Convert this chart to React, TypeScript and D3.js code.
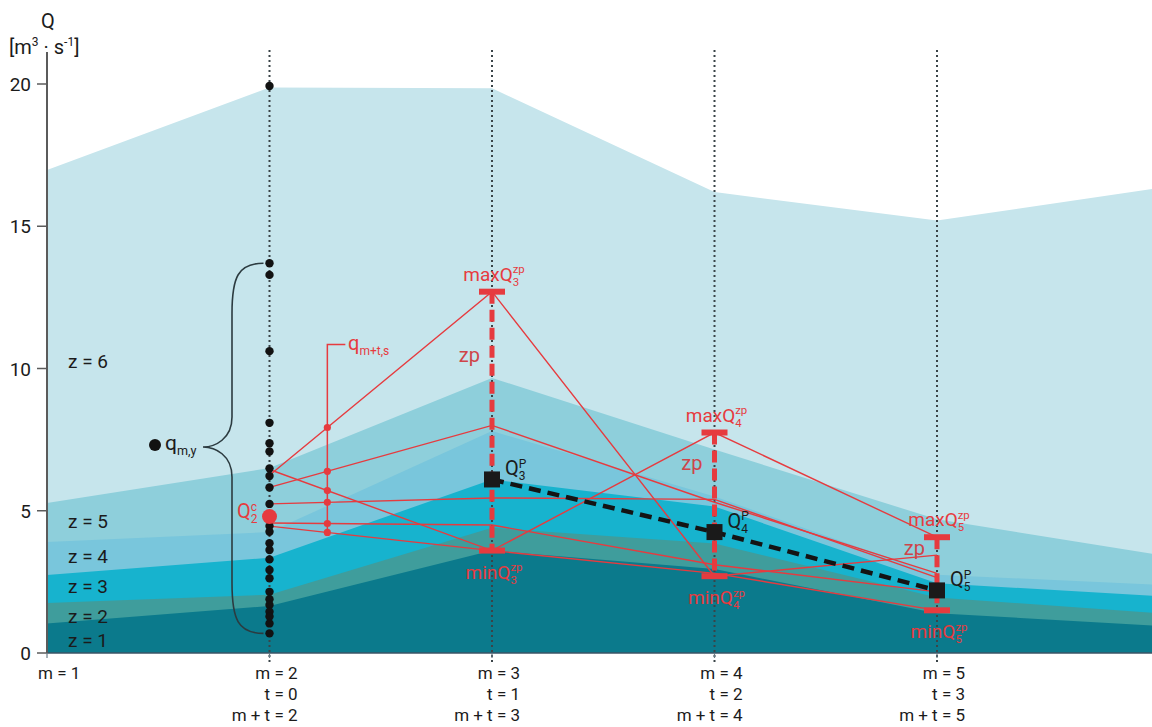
import React, { useEffect, useRef } from "react";
import * as d3 from "d3";

const W = 1152;
const H = 727;

// tops of the z bands at m = 1..6
const bandSteps = [1, 2, 3, 4, 5, 6];
const bandZ1 = [1.04, 1.65, 3.6, 2.95, 1.4, 0.95];
const bandZ2 = [1.76, 2.05, 4.4, 3.85, 1.95, 1.4];
const bandZ3 = [2.74, 3.35, 6.1, 5.15, 2.45, 2.0];
const bandZ4 = [3.9, 4.25, 7.8, 5.5, 2.75, 2.4];
const bandZ5 = [5.27, 6.5, 9.67, 7.15, 4.7, 3.45];
const bandZ6 = [16.98, 19.88, 19.85, 16.2, 15.2, 16.35];
const bandColors = ["#0b7a8c", "#3f9d9c", "#17b3ce", "#79c6dc", "#8ecfdb", "#c6e5ec"];
const bandLabels = ["z = 1", "z = 2", "z = 3", "z = 4", "z = 5", "z = 6"];
const bandLabelAt = [0.45, 1.3, 2.35, 3.4, 4.65, 10.25];

// q_{m,y}: historical values at m = 2
const histValues = [
  19.93, 13.7, 13.29, 10.61, 8.09, 7.37, 7.08, 6.49, 6.22, 5.82, 5.24, 4.46, 4.26,
  3.86, 3.62, 3.29, 2.92, 2.63, 2.15, 1.89, 1.69, 1.45, 1.28, 1.04, 0.69,
];
const currentQ = 4.8; // Q_2^c

// ensemble trajectories at m = 2..5
const trajSteps = [2, 3, 4, 5];
const trajA = [6.25, 12.7, 2.7, 3.44];
const trajB = [5.82, 8.0, 5.3, 2.8];
const trajC = [6.45, 3.6, 7.75, 4.07];
const trajD = [5.24, 5.45, 5.4, 2.65];
const trajE = [4.57, 4.5, 3.1, 2.15];
const trajF = [4.46, 3.6, 2.8, 1.5];
const trajectories = [trajA, trajB, trajC, trajD, trajE, trajF];

// predicted values Q^P at m = 3..5
const predSteps = [3, 4, 5];
const predValues = [6.1, 4.25, 2.2];

const yTicks = [0, 5, 10, 15, 20];
const xSteps = [1, 2, 3, 4, 5];
const mLabels = ["m = 1", "m = 2", "m = 3", "m = 4", "m = 5"];
const tLabels = ["", "t = 0", "t = 1", "t = 2", "t = 3"];
const mtLabels = ["", "m + t = 2", "m + t = 3", "m + t = 4", "m + t = 5"];

const RED = "#e63b3f";
const INK = "#1b1b1b";
const FONT = "Roboto, 'Open Sans', sans-serif";

export default function App() {
  const svgRef = useRef<SVGSVGElement>(null);

  useEffect(() => {
    const svg = d3.select(svgRef.current);
    svg.selectAll("*").remove();

    const x = d3.scaleLinear().domain([1, 5]).range([47, 937]);
    const y = d3.scaleLinear().domain([0, 20]).range([653, 84]);

    // stacked bands, widest first
    const bands = [bandZ1, bandZ2, bandZ3, bandZ4, bandZ5, bandZ6];
    const area = d3
      .area<number>()
      .x((d, i) => x(bandSteps[i]))
      .y0(y(0))
      .y1((d) => y(d));
    for (let z = 5; z >= 0; z--) {
      svg.append("path").attr("d", area(bands[z])).attr("fill", bandColors[z]);
    }

    // z labels
    bandLabels.forEach((t, i) => {
      svg.append("text")
        .attr("x", 68).attr("y", y(bandLabelAt[i]) + 7)
        .attr("font-family", FONT).attr("font-size", 19)
        .attr("fill", INK).text(t);
    });

    // vertical dotted guides
    xSteps.slice(1).forEach((m) => {
      svg.append("line")
        .attr("x1", x(m)).attr("x2", x(m)).attr("y1", 50).attr("y2", 662)
        .attr("stroke", "#3a4448").attr("stroke-width", 2)
        .attr("stroke-dasharray", "2,3");
    });

    // axes
    svg.append("line").attr("x1", 47).attr("x2", W).attr("y1", y(0)).attr("y2", y(0))
      .attr("stroke", "#3b5566").attr("stroke-width", 1.6);
    svg.append("line").attr("x1", 47).attr("x2", 47).attr("y1", y(0)).attr("y2", 52)
      .attr("stroke", "#5b5b5b").attr("stroke-width", 2);
    yTicks.forEach((t) => {
      svg.append("line").attr("x1", 37).attr("x2", 47).attr("y1", y(t)).attr("y2", y(t))
        .attr("stroke", "#5b5b5b").attr("stroke-width", 1.5);
      svg.append("text").attr("x", 31).attr("y", y(t) + 7).attr("text-anchor", "end")
        .attr("font-family", FONT).attr("font-size", 19)
        .attr("fill", INK).text(t);
    });
    xSteps.forEach((m) => {
      svg.append("line").attr("x1", x(m)).attr("x2", x(m)).attr("y1", y(0)).attr("y2", y(0) + 5)
        .attr("stroke", "#6b7b85").attr("stroke-width", 1.2);
    });

    svg.append("text").attr("x", 48).attr("y", 28).attr("text-anchor", "middle")
      .attr("font-family", FONT).attr("font-size", 20)
      .attr("fill", INK).text("Q");
    const unit = svg.append("text").attr("x", 9).attr("y", 54)
      .attr("font-family", FONT).attr("font-size", 20).attr("fill", INK);
    unit.append("tspan").text("[m");
    unit.append("tspan").attr("font-size", 12).attr("dy", -8).text("3");
    unit.append("tspan").attr("dy", 8).text(" · s");
    unit.append("tspan").attr("font-size", 12).attr("dy", -8).text("-1");
    unit.append("tspan").attr("dy", 8).text("]");

    // bottom labels
    const rows = [mLabels, tLabels, mtLabels];
    rows.forEach((row, r) => {
      row.forEach((t, i) => {
        if (!t) return;
        svg.append("text")
          .attr("x", i === 0 ? 38 : x(xSteps[i]) + 28)
          .attr("y", 679 + r * 21)
          .attr("text-anchor", i === 0 ? "start" : "end")
          .attr("font-family", FONT).attr("font-size", 17)
          .attr("fill", INK)
          .text(t);
      });
    });

    // ensemble lines
    const line = d3.line<number>().x((d, i) => x(trajSteps[i])).y((d) => y(d));
    trajectories.forEach((tr) => {
      svg.append("path").attr("d", line(tr)).attr("fill", "none")
        .attr("stroke", RED).attr("stroke-width", 1.4);
    });

    // q_{m+t,s} marker between m = 2 and m = 3
    const qStep = 2.26;
    const frac = (qStep - 2) / (3 - 2);
    const qVals = trajectories.map((tr) => tr[0] + (tr[1] - tr[0]) * frac);
    const qTop = y(d3.max(qVals)!) - 83;
    svg.append("path")
      .attr("d", `M${x(qStep) + 18},${qTop}H${x(qStep)}V${y(d3.min(qVals)!)}`)
      .attr("fill", "none").attr("stroke", RED).attr("stroke-width", 1.5);
    qVals.forEach((v) => {
      svg.append("circle").attr("cx", x(qStep)).attr("cy", y(v)).attr("r", 3.6).attr("fill", RED);
    });

    // labels with sub/superscripts
    const label = (
      px: number, py: number, main: string, sub: string, sup: string,
      color: string, size: number, anchor: "start" | "middle" = "middle",
    ) => {
      const g = svg.append("g");
      const m = g.append("text").attr("x", 0).attr("y", 0)
        .attr("font-family", FONT).attr("font-size", size)
        .attr("fill", color).text(main);
      const w = (m.node() as SVGTextElement).getComputedTextLength();
      let w2 = 0;
      if (sub) {
        const s = g.append("text").attr("x", w).attr("y", 5)
          .attr("font-family", FONT).attr("font-size", size * 0.6)
          .attr("fill", color).text(sub);
        w2 = Math.max(w2, (s.node() as SVGTextElement).getComputedTextLength());
      }
      if (sup) {
        const s = g.append("text").attr("x", w).attr("y", -size * 0.38)
          .attr("font-family", FONT).attr("font-size", size * 0.6)
          .attr("fill", color).text(sup);
        w2 = Math.max(w2, (s.node() as SVGTextElement).getComputedTextLength());
      }
      const total = w + w2;
      const ox = anchor === "middle" ? px - total / 2 : px;
      g.attr("transform", `translate(${ox},${py})`);
    };

    label(348, 350, "q", "m+t,s", "", RED, 20, "start");

    // zp ranges
    predSteps.forEach((m, k) => {
      const j = trajSteps.indexOf(m);
      const vals = trajectories.map((tr) => tr[j]);
      const lo = d3.min(vals)!;
      const hi = d3.max(vals)!;
      svg.append("line").attr("x1", x(m)).attr("x2", x(m)).attr("y1", y(hi)).attr("y2", y(lo))
        .attr("stroke", RED).attr("stroke-width", 5).attr("stroke-dasharray", "12,6");
      [hi, lo].forEach((v) => {
        svg.append("rect").attr("x", x(m) - 13).attr("y", y(v) - 3).attr("width", 26)
          .attr("height", 6).attr("fill", RED);
      });
      label(x(m) + 2, y(hi) - 11, "maxQ", String(m), "zp", RED, 19);
      label(x(m) + 2, y(lo) + 28, "minQ", String(m), "zp", RED, 19);
      const zpY = k === 0 ? y(hi) + 70 : k === 1 ? y(hi) + 37 : y(hi) + 18;
      svg.append("text").attr("x", x(m) - 12).attr("y", zpY).attr("text-anchor", "end")
        .attr("font-family", FONT).attr("font-size", 20).attr("fill", "#cf4449").text("zp");
    });

    // predicted path
    const pLine = d3.line<number>().x((d, i) => x(predSteps[i])).y((d) => y(d));
    svg.append("path").attr("d", pLine(predValues)).attr("fill", "none")
      .attr("stroke", "#141414").attr("stroke-width", 4.5).attr("stroke-dasharray", "12,7");
    predValues.forEach((v, i) => {
      svg.append("rect").attr("x", x(predSteps[i]) - 8).attr("y", y(v) - 8)
        .attr("width", 16).attr("height", 16).attr("fill", "#1a1a1a");
      label(x(predSteps[i]) + 13, y(v) - 4, "Q", String(predSteps[i]), "P", INK, 20, "start");
    });

    // historical dots and brace
    histValues.forEach((v) => {
      svg.append("circle").attr("cx", x(2)).attr("cy", y(v)).attr("r", 4.2).attr("fill", "#121212");
    });
    svg.append("circle").attr("cx", x(2)).attr("cy", y(currentQ)).attr("r", 7.5).attr("fill", RED);
    label(237, y(currentQ) + 2, "Q", "2", "c", RED, 20, "start");

    const braceVals = histValues.slice(1);
    const yTop = y(d3.max(braceVals)!);
    const yBot = y(d3.min(braceVals)!);
    const yTip = 447;
    const bx = 232;
    const tipX = 203;
    svg.append("path")
      .attr("d",
        `M${x(2) - 6},${yTop} C${bx + 6},${yTop} ${bx},${yTop + 14} ${bx},${yTop + 50}` +
        ` L${bx},${yTip - 30} C${bx},${yTip - 8} ${tipX + 12},${yTip} ${tipX},${yTip}` +
        ` C${tipX + 12},${yTip} ${bx},${yTip + 8} ${bx},${yTip + 30}` +
        ` L${bx},${yBot - 50} C${bx},${yBot - 14} ${bx + 6},${yBot} ${x(2) - 6},${yBot}`)
      .attr("fill", "none").attr("stroke", "#2c3b40").attr("stroke-width", 1.6);

    svg.append("circle").attr("cx", 155).attr("cy", 445).attr("r", 6).attr("fill", "#121212");
    label(165, 450, "q", "m,y", "", INK, 21, "start");
  }, []);

  return (
    <svg
      ref={svgRef}
      width={W}
      height={H}
      style={{ position: "absolute", left: 0, top: 0, background: "#fff" }}
    />
  );
}
